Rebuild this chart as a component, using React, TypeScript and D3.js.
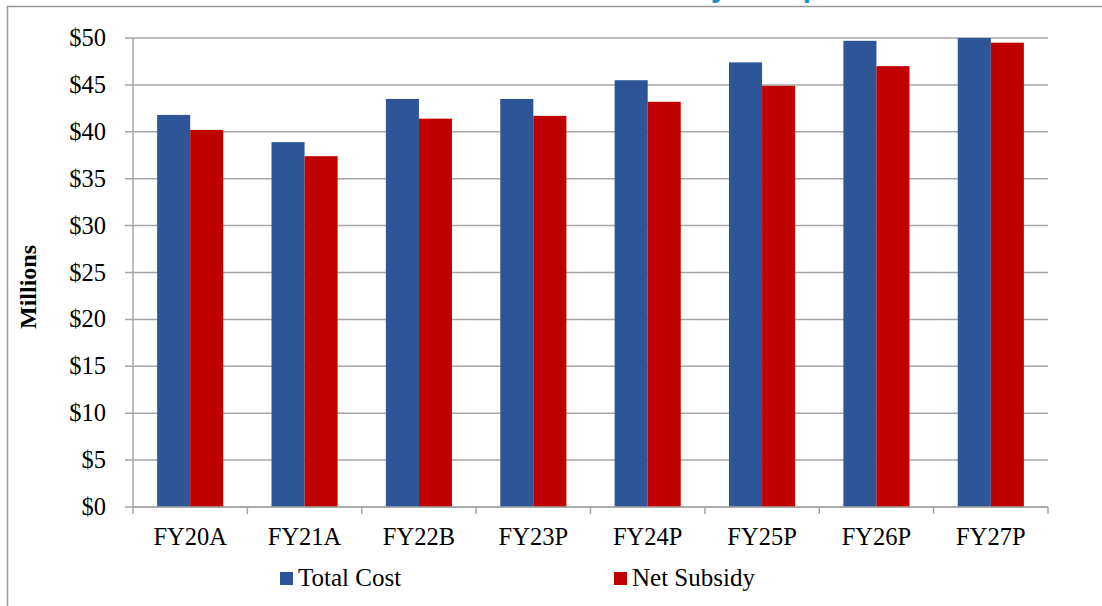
import React, { useLayoutEffect, useRef } from "react";
import * as d3 from "d3";

const categories = ["FY20A", "FY21A", "FY22B", "FY23P", "FY24P", "FY25P", "FY26P", "FY27P"];
const seriesNames = ["Total Cost", "Net Subsidy"];
const totalCost = [41.8, 38.9, 43.5, 43.5, 45.5, 47.4, 49.7, 50.0];
const netSubsidy = [40.2, 37.4, 41.4, 41.7, 43.2, 44.9, 47.0, 49.5];
const yTicks = [0, 5, 10, 15, 20, 25, 30, 35, 40, 45, 50];
const colors = ["#2E5597", "#C00000"];
const title = "Total Cost and Net Subsidy Comparison";

const W = 1102;
const H = 606;
const left = 133;
const right = 1048;
const top = 38;
const bottom = 507;
const serif = "'Liberation Serif', 'Times New Roman', serif";

export default function App() {
  const titleRef = useRef<SVGTextElement>(null);

  useLayoutEffect(() => {
    const t = titleRef.current;
    if (!t) return;
    const idx = title.indexOf("y Comp");
    try {
      const pos = t.getStartPositionOfChar(idx);
      const cur = Number(t.getAttribute("x"));
      t.setAttribute("x", String(cur + (711 - pos.x)));
    } catch (e) {}
  }, []);

  const x0 = d3.scaleBand<string>().domain(categories).range([left, right]).padding(0);
  const step = x0.step();
  const x1 = d3.scaleBand<string>().domain(seriesNames).range([0, step]).paddingInner(0).paddingOuter(0.73);
  const y = d3.scaleLinear().domain([0, 50]).range([bottom, top]);
  const values = [totalCost, netSubsidy];

  return (
    <svg width={W} height={H} style={{ position: "absolute", left: 0, top: 0, background: "#fff" }}>
      <defs>
        <clipPath id="titleClip">
          <rect x={0} y={0} width={W} height={6} />
        </clipPath>
      </defs>
      <g clipPath="url(#titleClip)">
        <text
          ref={titleRef}
          x={300}
          y={-3}
          fill="#1A8FD3"
          fontFamily="'Liberation Sans', Arial, sans-serif"
          fontWeight="bold"
          fontSize={30}
        >
          {title}
        </text>
      </g>
      {/* frame */}
      <rect x={7.5} y={6.5} width={W + 20} height={H + 20} fill="none" stroke="#9A9A9A" strokeWidth={1.5} />

      {/* gridlines and y ticks */}
      {yTicks.map((t) => (
        <g key={t}>
          <line x1={125} x2={right} y1={y(t)} y2={y(t)} stroke="#A6A6A6" strokeWidth={1.5} />
          <text
            x={106}
            y={y(t)}
            dy="0.33em"
            textAnchor="end"
            fontFamily={serif}
            fontSize={24.5}
            fill="#000"
          >
            {"$" + t}
          </text>
        </g>
      ))}

      {/* bars */}
      {categories.map((c, i) => (
        <g key={c}>
          {seriesNames.map((s, j) => {
            const v = values[j][i];
            return (
              <rect
                key={s}
                x={(x0(c) as number) + (x1(s) as number)}
                y={y(v)}
                width={x1.bandwidth()}
                height={y(0) - y(v)}
                fill={colors[j]}
              />
            );
          })}
        </g>
      ))}

      {/* y axis line */}
      <line x1={left} x2={left} y1={top} y2={bottom} stroke="#A6A6A6" strokeWidth={1.5} />
      {/* x axis */}
      <line x1={left} x2={right} y1={bottom} y2={bottom} stroke="#A6A6A6" strokeWidth={1.5} />
      {categories.concat(["_end"]).map((c, i) => {
        const xx = left + i * step;
        return <line key={"t" + c} x1={xx} x2={xx} y1={bottom} y2={bottom + 7} stroke="#A6A6A6" strokeWidth={1.5} />;
      })}
      {categories.map((c) => (
        <text
          key={"l" + c}
          x={(x0(c) as number) + step / 2}
          y={545}
          textAnchor="middle"
          fontFamily={serif}
          fontSize={24.5}
          fill="#000"
        >
          {c}
        </text>
      ))}

      {/* y axis title */}
      <text
        transform="translate(36,287) rotate(-90)"
        textAnchor="middle"
        fontFamily={serif}
        fontWeight="bold"
        fontSize={24}
        fill="#000"
      >
        Millions
      </text>

      {/* legend */}
      {seriesNames.map((s, j) => {
        const lx = j === 0 ? 280 : 614;
        return (
          <g key={"lg" + s}>
            <rect x={lx} y={572} width={13} height={13} fill={colors[j]} />
            <text x={lx + 18} y={586} fontFamily={serif} fontSize={25} fill="#000">
              {s}
            </text>
          </g>
        );
      })}
    </svg>
  );
}
